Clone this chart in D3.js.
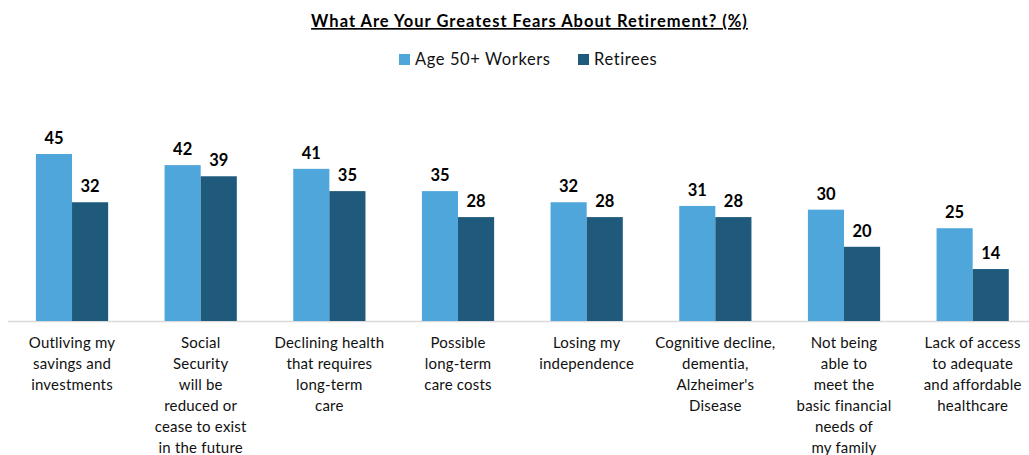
<!DOCTYPE html>
<html lang="en">
	<head>
		<meta charset="UTF-8" />
		<title>What Are Your Greatest Fears About Retirement?</title>
		<script src="https://d3js.org/d3.v7.min.js"></script>
		<style>
			body { margin: 0; background: #fff; }
			svg { display: block; font-family: Lato, 'Open Sans', sans-serif; }
		</style>
	</head>
	<body>
		<svg width="1029" height="455"></svg>

		<script>
			// category labels, already broken into lines as in the original
			const categories = [
				['Outliving my', 'savings and', 'investments'],
				['Social', 'Security', 'will be', 'reduced or', 'cease to exist', 'in the future'],
				['Declining health', 'that requires', 'long-term', 'care'],
				['Possible', 'long-term', 'care costs'],
				['Losing my', 'independence'],
				['Cognitive decline,', 'dementia,', "Alzheimer's", 'Disease'],
				['Not being', 'able to', 'meet the', 'basic financial', 'needs of', 'my family'],
				['Lack of access', 'to adequate', 'and affordable', 'healthcare']
			];
			const workers = [45, 42, 41, 35, 32, 31, 30, 25];
			const retirees = [32, 39, 35, 28, 28, 28, 20, 14];
			const seriesNames = ['Age 50+ Workers', 'Retirees'];
			const colors = ['#4ea6da', '#1f5a7d'];

			const svg = d3.select('svg');
			const baseY = 321;

			const x = d3.scaleBand()
				.domain(d3.range(categories.length))
				.range([7.7, 1037])
				.paddingInner(0)
				.paddingOuter(0);
			const inner = d3.scaleBand()
				.domain([0, 1])
				.range([0, x.bandwidth()])
				.paddingOuter(0.7815);
			const y = d3.scaleLinear().domain([0, 45]).range([baseY, 154]);

			// title
			svg.append('text')
				.attr('x', 529.5)
				.attr('y', 27)
				.attr('text-anchor', 'middle')
				.style('font-size', '16.5px')
				.style('font-weight', 'bold')
				.style('letter-spacing', '1px')
				.style('text-decoration', 'underline')
				.style('fill', '#000')
				.text('What Are Your Greatest Fears About Retirement? (%)');

			// legend
			const legendX = [399, 578];
			const legend = svg.selectAll('.legend').data(seriesNames).enter().append('g')
				.attr('transform', (d, i) => `translate(${legendX[i]},54)`);
			legend.append('rect').attr('width', 11).attr('height', 11).style('fill', (d, i) => colors[i]);
			legend.append('text')
				.attr('x', 16)
				.attr('y', 11)
				.style('font-size', '16.5px')
				.style('letter-spacing', '0.6px')
				.style('fill', '#111')
				.text(d => d);

			// axis line
			svg.append('line')
				.attr('x1', 8).attr('x2', 1029)
				.attr('y1', baseY + 0.5).attr('y2', baseY + 0.5)
				.style('stroke', '#d9d9d9')
				.style('stroke-width', 1.5);

			const rows = categories.map((c, i) => ({ i, vals: [workers[i], retirees[i]] }));
			const group = svg.selectAll('.group').data(rows).enter().append('g')
				.attr('class', 'group')
				.attr('transform', d => `translate(${x(d.i)},0)`);

			group.selectAll('rect').data(d => d.vals).enter().append('rect')
				.attr('x', (v, j) => inner(j))
				.attr('width', inner.bandwidth())
				.attr('y', v => y(v))
				.attr('height', v => baseY - y(v))
				.style('fill', (v, j) => colors[j]);

			group.selectAll('.val').data(d => d.vals).enter().append('text')
				.attr('class', 'val')
				.attr('x', (v, j) => inner(j) + inner.bandwidth() / 2)
				.attr('y', v => y(v) - 10)
				.attr('text-anchor', 'middle')
				.style('font-size', '16.5px')
				.style('font-weight', 'bold')
				.style('fill', '#000')
				.text(v => v);

			// category labels
			const labels = svg.selectAll('.cat').data(categories).enter().append('text')
				.attr('class', 'cat')
				.attr('text-anchor', 'middle')
				.style('font-size', '15px')
				.style('letter-spacing', '0.2px')
				.style('fill', '#111');
			labels.selectAll('tspan').data((d, i) => d.map(t => ({ t, i }))).enter().append('tspan')
				.attr('x', d => x(d.i) + x.bandwidth() / 2)
				.attr('y', (d, k) => 348 + k * 21)
				.text(d => d.t);
		</script>
	</body>
</html>
